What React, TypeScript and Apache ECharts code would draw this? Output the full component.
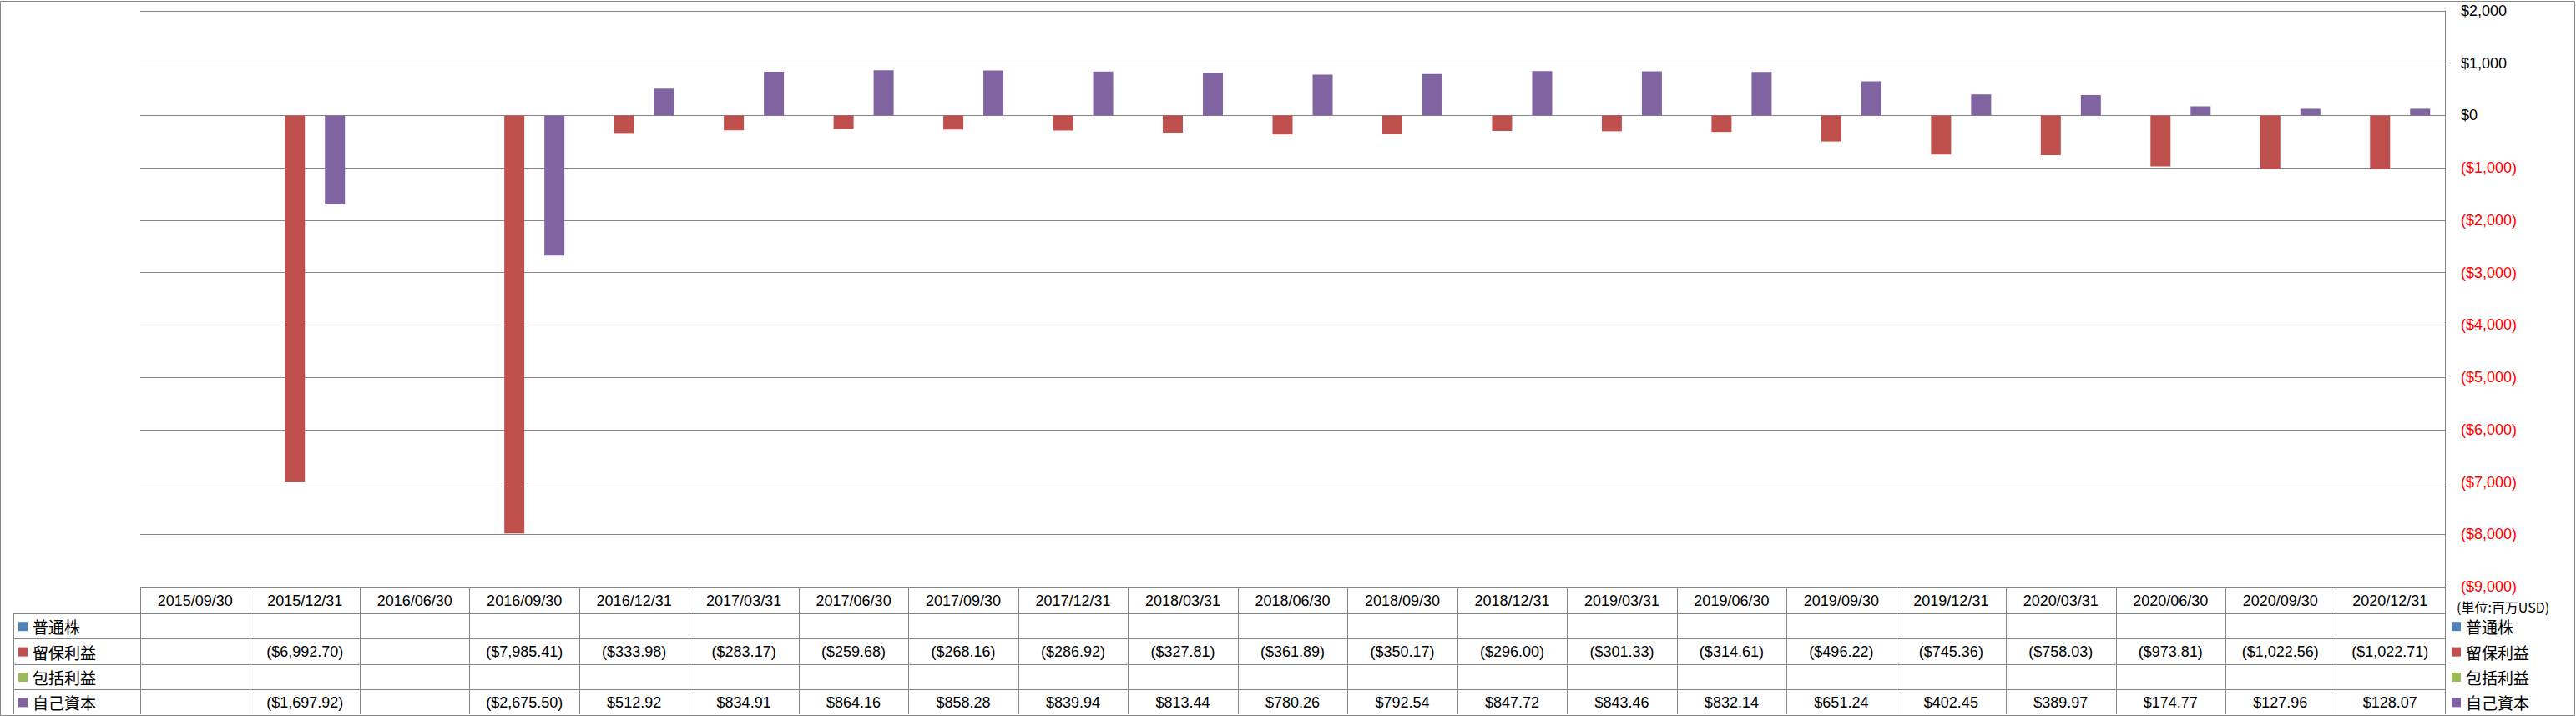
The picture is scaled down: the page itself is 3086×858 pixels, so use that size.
import React, { useEffect, useRef } from "react";
import * as echarts from "echarts";

const categories = [
  "2015/09/30", "2015/12/31", "2016/06/30", "2016/09/30", "2016/12/31",
  "2017/03/31", "2017/06/30", "2017/09/30", "2017/12/31", "2018/03/31",
  "2018/06/30", "2018/09/30", "2018/12/31", "2019/03/31", "2019/06/30",
  "2019/09/30", "2019/12/31", "2020/03/31", "2020/06/30", "2020/09/30",
  "2020/12/31",
];

const commonStock: (number | null)[] = categories.map(() => null);
const retainedEarnings: (number | null)[] = [
  null, -6992.7, null, -7985.41, -333.98, -283.17, -259.68, -268.16, -286.92,
  -327.81, -361.89, -350.17, -296.0, -301.33, -314.61, -496.22, -745.36,
  -758.03, -973.81, -1022.56, -1022.71,
];
const comprehensiveIncome: (number | null)[] = categories.map(() => null);
const equity: (number | null)[] = [
  null, -1697.92, null, -2675.5, 512.92, 834.91, 864.16, 858.28, 839.94,
  813.44, 780.26, 792.54, 847.72, 843.46, 832.14, 651.24, 402.45, 389.97,
  174.77, 127.96, 128.07,
];

const seriesNames = ["普通株", "留保利益", "包括利益", "自己資本"];
const seriesColors = ["#4F81BD", "#C0504D", "#9BBB59", "#8064A2"];
const seriesData = [commonStock, retainedEarnings, comprehensiveIncome, equity];

const yMin = -9000;
const yMax = 2000;
const yInterval = 1000;
const unitLabel = "(単位:百万USD)";

const W = 3086;
const H = 858;
const gridLeft = 168;
const gridRight = 2929;
const gridTop = 13;
const gridBottom = 703;
const gridColor = "#868686";
const latin = '"Liberation Sans", Arial, sans-serif';
const cjk = '"Noto Sans CJK JP", "Noto Sans CJK SC", sans-serif';

function fmtMoney(v: number, decimals: number): string {
  const s = Math.abs(v).toLocaleString("en-US", {
    minimumFractionDigits: decimals,
    maximumFractionDigits: decimals,
  });
  return v < 0 ? `($${s})` : `$${s}`;
}

function buildGraphics() {
  const els: any[] = [];
  const colW = (gridRight - gridLeft) / categories.length;
  const tableTop = 704;
  const headerH = 31;
  const rowH = 30.4;
  const tableBottom = 856;
  const legendLeft = 16.5;
  const line = (x1: number, y1: number, x2: number, y2: number) => ({
    type: "line",
    shape: { x1, y1, x2, y2 },
    style: { stroke: gridColor, lineWidth: 1 },
    silent: true,
    z: 10,
  });
  const text = (
    x: number,
    y: number,
    t: string,
    size: number,
    family: string,
    align: string,
    color = "#000"
  ) => ({
    type: "text",
    x,
    y,
    style: {
      text: t,
      fill: color,
      fontSize: size,
      fontFamily: family,
      align,
      verticalAlign: "middle",
      textAlign: align,
      textVerticalAlign: "middle",
    },
    silent: true,
    z: 11,
  });

  // outer border
  els.push({
    type: "rect",
    shape: { x: 0.5, y: 1.5, width: W - 2, height: H - 2 },
    style: { fill: "none", stroke: gridColor, lineWidth: 1 },
    silent: true,
    z: 9,
  });

  // header top
  els.push(line(gridLeft, tableTop + 0.5, gridRight, tableTop + 0.5));
  // row lines
  for (let r = 0; r < seriesNames.length; r++) {
    const y = Math.round(tableTop + headerH + r * rowH) + 0.5;
    els.push(line(legendLeft, y, gridRight, y));
  }
  // vertical lines
  els.push(line(legendLeft, tableTop + headerH, legendLeft, tableBottom));
  for (let c = 0; c <= categories.length; c++) {
    const x = Math.round(gridLeft + c * colW) + 0.5;
    els.push(line(x, tableTop, x, tableBottom));
  }
  // header texts
  categories.forEach((cat, c) => {
    els.push(
      text(gridLeft + (c + 0.5) * colW, tableTop + headerH / 2 + 0.5, cat, 18, latin, "center")
    );
  });
  // rows
  seriesNames.forEach((name, r) => {
    const cy = tableTop + headerH + (r + 0.5) * rowH + 0.5;
    els.push({
      type: "rect",
      shape: { x: 22, y: cy - 5.5, width: 11, height: 11 },
      style: { fill: seriesColors[r] },
      silent: true,
      z: 11,
    });
    els.push(text(39, cy, name, 19, cjk, "left"));
    seriesData[r].forEach((v, c) => {
      if (v === null || v === undefined) return;
      els.push(
        text(gridLeft + (c + 0.5) * colW, cy, fmtMoney(v, 2), 18, latin, "center")
      );
    });
    // right legend
    els.push({
      type: "rect",
      shape: { x: 2937, y: cy - 5.5, width: 11, height: 11 },
      style: { fill: seriesColors[r] },
      silent: true,
      z: 11,
    });
    els.push(text(2954, cy, name, 19, cjk, "left"));
  });
  // unit label
  els.push(text(2943, 727, unitLabel, 16, cjk, "left"));
  return els;
}

export default function App() {
  const ref = useRef<HTMLDivElement>(null);
  useEffect(() => {
    document.body.style.margin = "0";
    if (!ref.current) return;
    const chart = echarts.init(ref.current, undefined, { renderer: "svg" });
    chart.setOption({
      animation: false,
      backgroundColor: "#ffffff",
      grid: {
        left: gridLeft,
        right: W - gridRight,
        top: gridTop,
        bottom: H - gridBottom,
        containLabel: false,
      },
      xAxis: {
        type: "category",
        data: categories,
        axisLine: { show: false },
        axisTick: { show: false },
        axisLabel: { show: false },
        splitLine: { show: false },
      },
      yAxis: {
        type: "value",
        position: "right",
        min: yMin,
        max: yMax,
        interval: yInterval,
        axisLine: { show: true, lineStyle: { color: gridColor, width: 1 } },
        axisTick: { show: false },
        splitLine: { show: true, lineStyle: { color: gridColor, width: 1 } },
        axisLabel: {
          margin: 19,
          fontSize: 18,
          fontFamily: latin,
          formatter: (v: number) =>
            v < 0 ? `{neg|${fmtMoney(v, 0)}}` : `{pos|${fmtMoney(v, 0)}}`,
          rich: {
            neg: { color: "#FF0000", fontSize: 18, fontFamily: latin },
            pos: { color: "#000000", fontSize: 18, fontFamily: latin },
          },
        },
      },
      series: seriesNames.map((name, i) => ({
        name,
        type: "bar",
        data: seriesData[i],
        barWidth: 24,
        barGap: "0%",
        itemStyle: { color: seriesColors[i] },
      })),
      graphic: buildGraphics(),
    });
    return () => chart.dispose();
  }, []);
  return <div ref={ref} style={{ width: W, height: H }} />;
}
